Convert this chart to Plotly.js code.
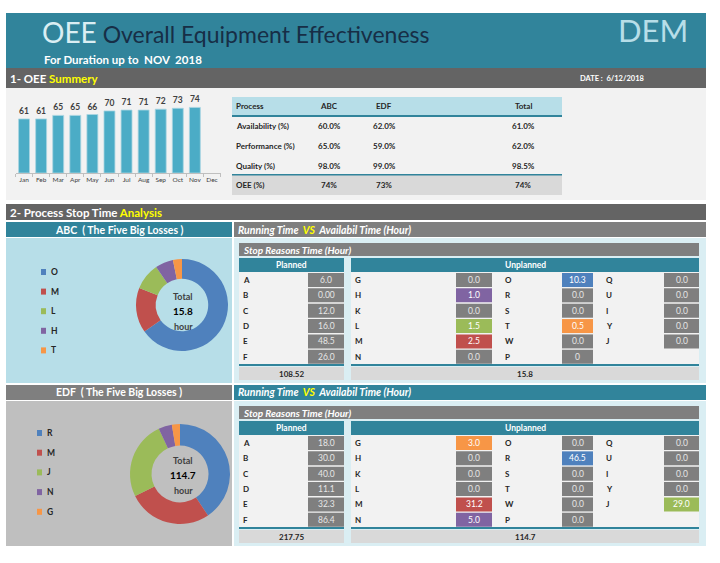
<!DOCTYPE html>
<html><head><meta charset="utf-8">
<script src="https://cdn.plot.ly/plotly-3.0.1.min.js"></script>
<style>html,body{margin:0;padding:0;background:#fff}#c{width:720px;height:563px}</style>
</head><body><div id="c"></div>
<script>
// ---------- DATA ----------
const months = ['Jan','Feb','Mar','Apr','May','Jun','Jul','Aug','Sep','Oct','Nov','Dec'];
const oeeMonthly = [61,61,65,65,66,70,71,71,72,73,74,null];

const summaryCols = ['Process','ABC','EDF','Total'];
const summaryRows = ['Availability (%)','Performance (%)','Quality (%)','OEE (%)'];
const abcSummary = ['60.0%','65.0%','98.0%','74%'];
const edfSummary = ['62.0%','59.0%','99.0%','73%'];
const totalSummary = ['61.0%','62.0%','98.5%','74%'];

const plannedLabels = ['A','B','C','D','E','F'];
const unplannedLabels1 = ['G','H','K','L','M','N'];
const unplannedLabels2 = ['O','R','S','T','W','P'];
const unplannedLabels3 = ['Q','U','I','Y','J'];

const abcPlanned = ['6.0','0.00','12.0','16.0','48.5','26.0'];
const abcUnplanned1 = ['0.0','1.0','0.0','1.5','2.5','0.0'];
const abcUnplanned2 = ['10.3','0.0','0.0','0.5','0.0','0'];
const abcUnplanned3 = ['0.0','0.0','0.0','0.0','0.0'];
const abcPlannedTotal = '108.52';
const abcUnplannedTotal = '15.8';

const edfPlanned = ['18.0','30.0','40.0','11.1','32.3','86.4'];
const edfUnplanned1 = ['3.0','0.0','0.0','0.0','31.2','5.0'];
const edfUnplanned2 = ['0.0','46.5','0.0','0.0','0.0','0.0'];
const edfUnplanned3 = ['0.0','0.0','0.0','0.0','29.0'];
const edfPlannedTotal = '217.75';
const edfUnplannedTotal = '114.7';

const abcLossLabels = ['O','M','L','H','T'];
const abcLossValues = [10.3,2.5,1.5,1.0,0.5];
const abcLossTotal = '15.8';
const edfLossLabels = ['R','M','J','N','G'];
const edfLossValues = [46.5,31.2,29.0,5.0,3.0];
const edfLossTotal = '114.7';

const lossColors = ['#4F81BD','#C0504D','#9BBB59','#8064A2','#F79646'];

// ---------- HELPERS ----------
const W = 720, H = 563;
const X = p => p / W;
const Y = p => 1 - p / H;
const FONT = 'Lato, "Open Sans", sans-serif';
const shapes = [];
const ann = [];
function rect(x0, y0, x1, y1, fill) {
  shapes.push({type:'rect', xref:'paper', yref:'paper', x0:X(x0), x1:X(x1), y0:Y(y1), y1:Y(y0),
    fillcolor:fill, line:{width:0}, layer:'below'});
}
function txt(x, y, text, size, color, anchor, weight) {
  ann.push({xref:'paper', yref:'paper', x:X(x), y:Y(y), text:text, showarrow:false,
    xanchor:anchor || 'left', yanchor:'middle',
    font:{family:FONT, size:size, color:color, weight: weight === undefined ? 700 : weight}});
}

// ---------- HEADER ----------
rect(6, 13, 706, 68, '#31849B');
txt(40, 32, '<span style="color:#DAEEF3;font-size:28px">OEE</span> Overall Equipment Effectiveness', 23, '#172E46', 'left', 400);
txt(690, 30, 'DEM', 31, '#B7DEE8', 'right', 400);
txt(42, 59, 'For Duration up to  NOV  2018', 11.5, '#FFFFFF');
rect(6, 68, 706, 88, '#646464');
txt(8, 78, '1- OEE <span style="color:#FFFF00">Summery</span>', 11.5, '#FFFFFF');
txt(578, 78, 'DATE :  6/12/2018', 7.5, '#FFFFFF');
rect(6, 88, 706, 200, '#F2F2F2');

// ---------- SUMMARY TABLE ----------
rect(232, 97, 562, 115, '#B7DEE8');
rect(232, 115, 562, 117, '#31849B');
rect(232, 175, 562, 195, '#D9D9D9');
rect(232, 174, 562, 175.5, '#31849B');
const colX = [234, 329, 384, 523];
summaryCols.forEach((c, i) => txt(colX[i], 106, c, 8, '#262626', i === 0 ? 'left' : 'center'));
const rowY = [126, 146, 166, 185];
summaryRows.forEach((r, i) => {
  txt(234, rowY[i], r, 8, '#262626', 'left');
  txt(colX[1], rowY[i], abcSummary[i], 8, '#262626', 'center');
  txt(colX[2], rowY[i], edfSummary[i], 8, '#262626', 'center');
  txt(colX[3], rowY[i], totalSummary[i], 8, '#262626', 'center');
});

// ---------- SECTION 2 ----------
rect(6, 204, 706, 220, '#646464');
txt(8, 212, '2- Process Stop Time <span style="color:#FFFF00">Analysis</span>', 11.5, '#FFFFFF');

function lossBlock(o) {
  const top = o.top;
  rect(6, top, 232, top + 15, o.leftHead);
  txt(119, top + 7.5, o.name + '  ( The Five Big Losses )', 10.5, '#FFFFFF', 'center');
  rect(6, top + 16, 232, top + 161, o.leftPanel);
  rect(234, top, 706, top + 15, o.rightHead);
  txt(236, top + 7.5, '<i>Running Time  <span style="color:#FFFF00">VS</span>  Availabil Time (Hour)</i>', 10.5, '#FFFFFF', 'left');
  rect(234, top + 16, 706, top + 161, '#DAEEF3');
  rect(239, top + 21, 699, top + 34, '#7F7F7F');
  txt(241, top + 27.5, '<i>Stop Reasons Time (Hour)</i>', 10, '#FFFFFF', 'left');
  rect(239, top + 36, 344, top + 50, '#31849B');
  rect(351, top + 36, 699, top + 50, '#31849B');
  txt(291.5, top + 43, 'Planned', 8.5, '#FFFFFF', 'center');
  txt(525, top + 43, 'Unplanned', 8.5, '#FFFFFF', 'center');
  rect(239, top + 50, 344, top + 142, '#F2F2F2');
  rect(351, top + 50, 699, top + 142, '#F2F2F2');
  rect(239, top + 142, 344, top + 144, '#31849B');
  rect(351, top + 142, 699, top + 144, '#31849B');
  rect(239, top + 145, 344, top + 158, '#D9D9D9');
  rect(351, top + 145, 699, top + 158, '#D9D9D9');
  txt(291.5, top + 151.5, o.plannedTotal, 8, '#262626', 'center');
  txt(525, top + 151.5, o.unplannedTotal, 8, '#262626', 'center');
  const y0 = top + 58, pitch = 15.35;
  const cols = [
    {labels: plannedLabels, vals: o.planned, lx: 241, bx0: 308, bx1: 344, planned: true},
    {labels: unplannedLabels1, vals: o.un1, lx: 353, bx0: 456, bx1: 492},
    {labels: unplannedLabels2, vals: o.un2, lx: 503, bx0: 562, bx1: 593},
    {labels: unplannedLabels3, vals: o.un3, lx: 604, bx0: 664, bx1: 699}
  ];
  cols.forEach(c => {
    c.labels.forEach((l, i) => {
      const yc = y0 + i * pitch;
      const k = c.planned ? -1 : o.lossLabels.indexOf(l);
      const fill = k >= 0 ? lossColors[k] : '#7F7F7F';
      rect(c.bx0, yc - 7, c.bx1, yc + 7, fill);
      txt(c.lx, yc, l, 8, '#262626', 'left');
      txt((c.bx0 + c.bx1) / 2, yc, c.vals[i], 8.5, k >= 0 ? '#FFFFFF' : '#E6E6E6', 'center', 400);
    });
  });
  o.lossLabels.forEach((l, i) => {
    const yc = o.legY0 + i * o.legPitch;
    rect(o.legX, yc - 3, o.legX + 5, yc + 3, lossColors[i]);
    txt(o.legX + 7.5, yc, l, 8.5, '#262626', 'left');
  });
  txt(o.cx, o.cy - 15, 'Total', 9, '#404040', 'center');
  txt(o.cx, o.cy, o.total, 10, '#000000', 'center');
  txt(o.cx, o.cy + 15, 'hour', 9, '#404040', 'center');
}

lossBlock({top: 222, name: 'ABC', leftHead: '#31849B', leftPanel: '#B7DEE8', rightHead: '#7F7F7F',
  planned: abcPlanned, un1: abcUnplanned1, un2: abcUnplanned2, un3: abcUnplanned3,
  plannedTotal: abcPlannedTotal, unplannedTotal: abcUnplannedTotal,
  lossLabels: abcLossLabels, total: abcLossTotal, legX: 41, legY0: 272, legPitch: 19.6, cx: 183, cy: 311});
lossBlock({top: 385, name: 'EDF', leftHead: '#7F7F7F', leftPanel: '#BFBFBF', rightHead: '#31849B',
  planned: edfPlanned, un1: edfUnplanned1, un2: edfUnplanned2, un3: edfUnplanned3,
  plannedTotal: edfPlannedTotal, unplannedTotal: edfUnplannedTotal,
  lossLabels: edfLossLabels, total: edfLossTotal, legX: 37, legY0: 433, legPitch: 19.7, cx: 183, cy: 475});

// ---------- TRACES ----------
const bar = {
  type: 'bar', x: months, y: oeeMonthly, xaxis: 'x', yaxis: 'y',
  marker: {color: '#4BACC6', line: {color: '#A9D6E2', width: 0.8}},
  text: oeeMonthly.map(v => v === null ? '' : String(v)), textposition: 'outside', cliponaxis: false,
  textfont: {family: FONT, size: 8.5, color: '#404040', weight: 700},
  hoverinfo: 'skip'
};
function pie(labels, values, cx, cy, r, hole) {
  return {type: 'pie', labels: labels, values: values, sort: false, direction: 'clockwise', rotation: 0,
    hole: hole, textinfo: 'none', showlegend: false, hoverinfo: 'skip',
    marker: {colors: lossColors, line: {width: 0}},
    domain: {x: [X(cx - r), X(cx + r)], y: [Y(cy + r), Y(cy - r)]}};
}
const pieAbc = pie(abcLossLabels, abcLossValues, 182, 305, 46, 0.57);
const pieEdf = pie(edfLossLabels, edfLossValues, 180, 474, 50, 0.57);

const layout = {
  width: W, height: H, margin: {l: 0, r: 0, t: 0, b: 0},
  paper_bgcolor: '#FFFFFF', plot_bgcolor: 'rgba(0,0,0,0)',
  showlegend: false, bargap: 0.36,
  xaxis: {domain: [X(15.5), X(220.5)], anchor: 'y', type: 'category', range: [-0.5, 11.5],
    showline: true, linecolor: '#BFBFBF', linewidth: 1, ticks: 'outside', tickson: 'boundaries',
    ticklen: 3, tickcolor: '#BFBFBF', showgrid: false, zeroline: false, fixedrange: true,
    tickangle: 0, tickfont: {family: FONT, size: 6.5, color: '#404040'}},
  yaxis: {domain: [Y(173), Y(95)], anchor: 'x', range: [0, 88], visible: false, fixedrange: true},
  shapes: shapes, annotations: ann
};
Plotly.newPlot('c', [bar, pieAbc, pieEdf], layout, {staticPlot: true, displayModeBar: false});
</script></body></html>
